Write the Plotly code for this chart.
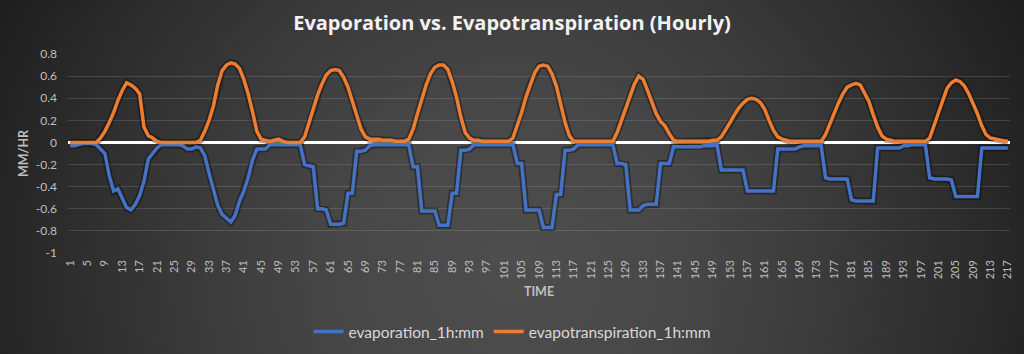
import base64
import plotly.graph_objects as go

# ---------------- data ----------------
evapotranspiration = [
    0, 0, 0, 0, 0, 0, 0, 0.04, 0.10, 0.18, 0.27, 0.38, 0.47, 0.54, 0.52, 0.49, 0.44, 0.14, 0.06, 0.04, 0.01, 0, 0, 0,
    0, 0, 0, 0, 0, 0, 0.02, 0.10, 0.20, 0.33, 0.52, 0.65, 0.70, 0.72, 0.71, 0.67, 0.57, 0.44, 0.28, 0.10, 0.03, 0.02, 0.01, 0.02,
    0.03, 0.01, 0, 0, 0, 0, 0.05, 0.18, 0.32, 0.43, 0.53, 0.61, 0.65, 0.66, 0.65, 0.59, 0.50, 0.38, 0.24, 0.12, 0.05, 0.03, 0.03, 0.03,
    0.02, 0.02, 0.02, 0.01, 0.01, 0.01, 0.03, 0.12, 0.26, 0.40, 0.52, 0.62, 0.68, 0.70, 0.70, 0.66, 0.55, 0.41, 0.23, 0.09, 0.04, 0.02, 0.02, 0.01,
    0.01, 0.01, 0.01, 0.01, 0.01, 0.01, 0.04, 0.15, 0.27, 0.41, 0.53, 0.63, 0.69, 0.70, 0.69, 0.62, 0.51, 0.34, 0.18, 0.06, 0.01, 0.01, 0.01, 0.01,
    0.01, 0.01, 0.01, 0.01, 0.01, 0.01, 0.09, 0.20, 0.32, 0.44, 0.53, 0.60, 0.57, 0.47, 0.36, 0.26, 0.19, 0.15, 0.08, 0.02, 0.01, 0.01, 0.01, 0.01,
    0.01, 0.01, 0.01, 0.01, 0.02, 0.02, 0.05, 0.11, 0.18, 0.25, 0.31, 0.355, 0.39, 0.40, 0.39, 0.36, 0.30, 0.20, 0.11, 0.05, 0.03, 0.02, 0.01, 0.01,
    0.01, 0.01, 0.01, 0.01, 0.01, 0.01, 0.07, 0.17, 0.26, 0.36, 0.44, 0.50, 0.52, 0.535, 0.52, 0.45, 0.37, 0.25, 0.14, 0.06, 0.03, 0.02, 0.01, 0.01,
    0.01, 0.01, 0.01, 0.01, 0.01, 0.01, 0.04, 0.15, 0.28, 0.39, 0.49, 0.54, 0.565, 0.55, 0.51, 0.44, 0.35, 0.26, 0.15, 0.07, 0.04, 0.03, 0.025, 0.015, 0.01,
]

evaporation = [
    -0.03, -0.03, -0.02, -0.01, -0.01, -0.01, -0.02, -0.06, -0.10, -0.30, -0.44, -0.42, -0.50, -0.59, -0.61, -0.56, -0.48, -0.35, -0.15, -0.10, -0.05, -0.02, -0.02, -0.02,
    -0.02, -0.02, -0.03, -0.06, -0.06, -0.04, -0.05, -0.12, -0.28, -0.44, -0.57, -0.65, -0.69, -0.72, -0.66, -0.53, -0.44, -0.32, -0.16, -0.06, -0.06, -0.06, -0.02, -0.02,
    -0.02, -0.02, -0.02, -0.02, -0.02, -0.02, -0.20, -0.21, -0.22, -0.60, -0.60, -0.61, -0.74, -0.74, -0.74, -0.73, -0.46, -0.46, -0.08, -0.08, -0.07, -0.03, -0.02, -0.02,
    -0.02, -0.02, -0.02, -0.02, -0.02, -0.02, -0.02, -0.22, -0.22, -0.62, -0.62, -0.62, -0.62, -0.75, -0.75, -0.75, -0.46, -0.46, -0.07, -0.07, -0.06, -0.02, -0.02, -0.02,
    -0.02, -0.02, -0.02, -0.02, -0.02, -0.02, -0.02, -0.19, -0.19, -0.61, -0.61, -0.61, -0.61, -0.77, -0.77, -0.77, -0.47, -0.47, -0.07, -0.07, -0.06, -0.02, -0.02, -0.02,
    -0.02, -0.02, -0.02, -0.02, -0.02, -0.02, -0.19, -0.19, -0.20, -0.61, -0.61, -0.61, -0.57, -0.56, -0.56, -0.56, -0.19, -0.19, -0.19, -0.04, -0.04, -0.04, -0.04, -0.04,
    -0.04, -0.04, -0.03, -0.03, -0.03, -0.02, -0.25, -0.25, -0.25, -0.25, -0.25, -0.25, -0.44, -0.44, -0.44, -0.44, -0.44, -0.44, -0.44, -0.06, -0.06, -0.06, -0.06, -0.06,
    -0.04, -0.03, -0.03, -0.03, -0.03, -0.03, -0.32, -0.33, -0.33, -0.33, -0.33, -0.33, -0.52, -0.53, -0.53, -0.53, -0.53, -0.53, -0.05, -0.05, -0.05, -0.05, -0.05, -0.05,
    -0.03, -0.03, -0.02, -0.02, -0.02, -0.02, -0.32, -0.33, -0.33, -0.33, -0.33, -0.34, -0.49, -0.49, -0.49, -0.49, -0.49, -0.49, -0.05, -0.05, -0.05, -0.05, -0.05, -0.05, -0.05,
]

time = list(range(1, len(evaporation) + 1))
x_tick_labels = list(range(1, 218, 4))
y_tick_values = [-1, -0.8, -0.6, -0.4, -0.2, 0, 0.2, 0.4, 0.6, 0.8]
y_tick_labels = ["-1", "-0.8", "-0.6", "-0.4", "-0.2", "0", "0.2", "0.4", "0.6", "0.8"]

# ---------------- styling ----------------
W, H = 1024, 354
L, R, T, B = 68, 14, 54, 101
BLUE = "#4472C4"
ORANGE = "#ED7D31"
TXT = "#bfbfbf"

svg = (
    "<svg xmlns='http://www.w3.org/2000/svg' width='1024' height='354' preserveAspectRatio='none'>"
    "<defs><radialGradient id='g' cx='512' cy='270' r='580' gradientUnits='userSpaceOnUse'>"
    "<stop offset='0' stop-color='#4e4e4e'/>"
    "<stop offset='0.3' stop-color='#474747'/>"
    "<stop offset='0.5' stop-color='#3d3d3d'/>"
    "<stop offset='0.75' stop-color='#2e2e2e'/>"
    "<stop offset='1' stop-color='#1e1e1e'/>"
    "</radialGradient></defs>"
    "<rect width='1024' height='354' fill='url(#g)'/></svg>"
)
bg_src = "data:image/svg+xml;base64," + base64.b64encode(svg.encode()).decode()

pw, ph = W - L - R, H - T - B

fig = go.Figure()

# soft shadows under the lines
for ys in (evaporation, evapotranspiration):
    fig.add_trace(go.Scatter(
        x=time, y=ys, mode="lines",
        line=dict(color="rgba(0,0,0,0.35)", width=7),
        hoverinfo="skip", showlegend=False,
    ))

fig.add_trace(go.Scatter(
    x=time, y=evaporation, mode="lines", name="evaporation_1h:mm",
    line=dict(color=BLUE, width=3.5),
))
fig.add_trace(go.Scatter(
    x=time, y=evapotranspiration, mode="lines", name="evapotranspiration_1h:mm",
    line=dict(color=ORANGE, width=3.5),
))

fig.update_layout(
    width=W, height=H,
    margin=dict(l=L, r=R, t=T, b=B),
    paper_bgcolor="#2a2a2a",
    plot_bgcolor="rgba(0,0,0,0)",
    font=dict(family="Lato, Open Sans, sans-serif", color=TXT),
    images=[dict(
        source=bg_src, xref="paper", yref="paper",
        x=-L / pw, y=1 + T / ph, sizex=W / pw, sizey=H / ph,
        xanchor="left", yanchor="top", sizing="stretch", layer="below",
    )],
    title=dict(
        text="Evaporation vs. Evapotranspiration (Hourly)",
        x=0.5, xref="container", xanchor="center",
        y=1 - 23 / H, yref="container", yanchor="middle",
        font=dict(family="Open Sans", size=20, color="#f2f2f2", weight="bold"),
    ),
    xaxis=dict(
        range=[0.5, len(time) + 0.5],
        tickvals=x_tick_labels, ticktext=[str(v) for v in x_tick_labels],
        tickangle=-90, tickfont=dict(size=11, color=TXT),
        showgrid=False, zeroline=False, showline=False, ticks="",
        ticklabelstandoff=4,
        title=dict(text="TIME", font=dict(size=12.5, color=TXT, weight="bold"), standoff=8),
    ),
    yaxis=dict(
        range=[-1, 0.8],
        tickvals=y_tick_values, ticktext=y_tick_labels,
        tickfont=dict(size=12, color=TXT),
        showgrid=True, gridcolor="rgba(255,255,255,0.13)", gridwidth=1,
        zeroline=True, zerolinecolor="#ffffff", zerolinewidth=3,
        showline=False, ticks="", ticklabelstandoff=10,
        title=dict(text="MM/HR", font=dict(size=12.5, color=TXT, weight="bold"), standoff=4),
    ),
    legend=dict(
        orientation="h", xref="container", yref="container",
        x=0.5, xanchor="center", y=1 - 332 / H, yanchor="middle",
        font=dict(size=15.5, color="#d9d9d9"), bgcolor="rgba(0,0,0,0)",
        itemwidth=30,
    ),
    showlegend=True,
)

fig.write_html("out.html")
